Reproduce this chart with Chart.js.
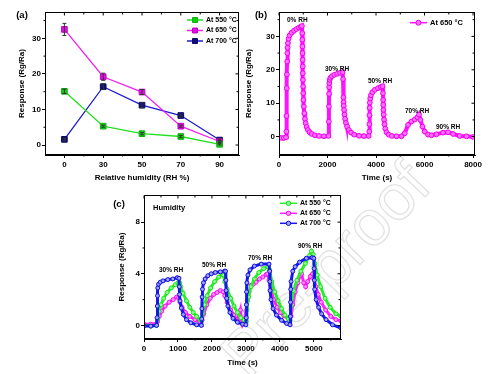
<!DOCTYPE html>
<html>
<head>
<meta charset="utf-8">
<script src="https://cdn.jsdelivr.net/npm/chart.js@4.4.1/dist/chart.umd.min.js"></script>
<style>
  html, body { margin: 0; padding: 0; background: #fff; }
  #wrap { position: relative; width: 488px; height: 374px; overflow: hidden; }
  canvas { position: absolute; }
  #wm {
    position: absolute; left: 160px; top: 232px; width: 330px; text-align: center;
    font: 64px 'Liberation Sans', Arial, sans-serif; color: transparent;
    -webkit-text-stroke: 1.2px #e0e0e0; transform: rotate(-46deg); white-space: nowrap;
  }
</style>
</head>
<body>
<div id="wrap">
  <div id="wm">Pre-proof</div>
  <canvas id="chartA" width="244" height="190" style="left:0;top:0"></canvas>
  <canvas id="chartB" width="248" height="190" style="left:240px;top:0"></canvas>
  <canvas id="chartC" width="260" height="189" style="left:100px;top:185px"></canvas>
</div>
<script>
// (a) response vs humidity
const humidityLevels = ['0', '30', '50', '70', '90']
const resp550 = [15.1, 5.3, 3.2, 2.4, 0.2]
const resp650 = [32.5, 19.2, 14.9, 5.3, 1.0]
const resp700 = [1.6, 16.4, 11.2, 8.3, 1.4]
const err550 = [0.6, 0.3, 0.3, 0.3, 0.2]
const err650 = [1.7, 1.0, 0.7, 0.3, 0.3]
const err700 = [0.3, 0.8, 0.7, 0.4, 0.3]
const ticksYA = [0, 10, 20, 30]
const minorYA = [5, 15, 25, 35]
const minorXA = [0.5, 1.5, 2.5, 3.5]

// (b) transient at 650 °C
const timeB = [0, 100, 200, 290, 305, 312, 320, 328, 336, 345, 355, 370, 395, 440, 520, 620, 720, 820, 900, 945,
  958, 962, 966, 970, 974, 978, 982, 987, 992, 1000, 1010, 1025, 1045, 1070, 1100, 1140, 1190, 1260, 1350, 1480,
  1650, 1850, 2040, 2055, 2060, 2064, 2068, 2075, 2090, 2120, 2180, 2280, 2400, 2520, 2620,
  2640, 2655, 2662, 2670, 2682, 2700, 2725, 2760, 2810, 2880, 2970, 3100, 3300, 3500, 3700,
  3722, 3728, 3733, 3738, 3745, 3760, 3790, 3850, 3950, 4080, 4200, 4270,
  4285, 4292, 4298, 4305, 4315, 4330, 4350, 4380, 4430, 4520, 4650, 4850, 5050,
  5184, 5320, 5460, 5596, 5707, 5773, 5831, 5913, 6008, 6144, 6285, 6490, 6763, 6969, 7175, 7450, 7728, 8000]
const respB = [-0.3, -0.4, -0.4, -0.2, 1.5, 6.2, 14.5, 18.6, 22.5, 25, 26.6, 28, 29.3, 30.3, 31.1, 31.7, 32.2, 32.6, 32.9, 33.1,
  31, 29, 27, 25, 23, 21, 19, 17, 15, 13, 11, 9, 7, 5.3, 4, 2.9, 2, 1.3, 0.8, 0.4,
  0.2, 0.1, 0.2, 4.5, 9, 12.8, 14.8, 16, 17, 17.6, 18.1, 18.5, 18.8, 19.1, 19.3,
  17.2, 11.8, 10.3, 9.2, 8, 6.6, 5.3, 4.1, 3, 2, 1.2, 0.6, 0.25, 0.15, 0.2,
  1.5, 3.7, 6.4, 8.6, 10.2, 11.4, 12.4, 13.3, 14, 14.5, 14.9, 15.1,
  13, 11, 9.5, 8, 6.6, 5.1, 3.7, 2.4, 1.3, 0.6, 0.2, 0.1, 0.1,
  1, 3.5, 4.5, 5.1, 5.8, 6.6, 5, 3, 1.5, 0.6, 0.4, 0.7, 1.2, 1.3, 0.8, 0.2, 0.1, -0.1]
const ticksXB = [0, 2000, 4000, 6000, 8000]
const minorXB = [1000, 3000, 5000, 7000]
const ticksYB = [0, 10, 20, 30]
const minorYB = [5, 15, 25, 35]

// (c) transients at three temperatures
const time700 = [0, 200, 370, 385, 392, 398, 405, 430, 480, 560, 700, 850, 980, 1030, 1040, 1045, 1060, 1100, 1160, 1250, 1380, 1550,
  1690, 1700, 1705, 1712, 1722, 1750, 1800, 1880, 1980, 2100, 2250, 2370, 2400, 2410, 2418, 2435, 2470, 2530, 2620, 2750, 2900,
  3000, 3010, 3015, 3020, 3030, 3060, 3120, 3250, 3450, 3680, 3700, 3706, 3712, 3740, 3800, 3900, 4050, 4200,
  4300, 4310, 4315, 4320, 4330, 4380, 4450, 4580, 4780, 4950, 5000, 5010, 5016, 5025, 5070, 5140, 5230, 5360, 5550, 5800]
const resp700c = [-0.05, -0.05, 0, 0.6, 1.5, 2.3, 2.9, 3.2, 3.35, 3.45, 3.55, 3.6, 3.7, 3.65, 3.0, 2.4, 1.9, 1.35, 0.85, 0.45, 0.2, 0.05,
  0, 0.5, 1.3, 2.2, 2.8, 3.3, 3.6, 3.85, 4.0, 4.1, 4.15, 4.2, 4.2, 3.5, 2.7, 2.1, 1.5, 1.0, 0.55, 0.25, 0.1,
  0.05, 0.6, 1.6, 2.6, 3.3, 3.9, 4.3, 4.6, 4.75, 4.75, 4.2, 3.4, 2.7, 2.0, 1.3, 0.8, 0.4, 0.15,
  0.05, 0.7, 1.8, 2.8, 3.4, 4.2, 4.55, 4.9, 5.2, 5.25, 5.2, 4.4, 3.5, 2.8, 2.0, 1.4, 0.9, 0.45, 0.05, -0.2]
const time550 = [0, 200, 370, 400, 440, 500, 580, 680, 800, 920, 1000, 1050, 1080, 1150, 1250, 1350, 1450, 1550, 1650,
  1700, 1730, 1780, 1860, 1960, 2080, 2200, 2300, 2340, 2380, 2450, 2550, 2650, 2750, 2850, 2950,
  3010, 3030, 3080, 3150, 3250, 3380, 3520, 3650, 3700, 3760, 3850, 3950, 4050, 4150, 4250,
  4300, 4330, 4400, 4500, 4620, 4750, 4870, 4930, 4980, 5030, 5100, 5200, 5330, 5480, 5650, 5800]
const resp550c = [0, -0.05, 0, 0.5, 1.1, 1.6, 2.1, 2.55, 2.9, 3.15, 3.3, 3.3, 3.0, 2.5, 1.9, 1.4, 1.0, 0.7, 0.45,
  0.4, 0.9, 1.6, 2.3, 2.9, 3.4, 3.75, 3.95, 3.9, 3.4, 2.8, 2.1, 1.5, 1.0, 0.6, 0.4,
  0.3, 1.2, 2.2, 3.0, 3.6, 4.1, 4.4, 4.55, 4.3, 3.4, 2.6, 1.9, 1.3, 0.8, 0.5,
  0.4, 1.5, 2.7, 3.5, 4.2, 4.8, 5.4, 5.75, 5.5, 4.8, 3.9, 3.0, 2.1, 1.4, 0.9, 0.7]
const time650 = [0, 200, 370, 400, 450, 520, 620, 740, 860, 960, 1020, 1060, 1120, 1220, 1350, 1500, 1650,
  1710, 1760, 1850, 1950, 2050, 2150, 2250, 2330, 2380, 2450, 2550, 2650, 2760, 2800, 2840, 2870, 2900, 2950,
  3000, 3040, 3090, 3150, 3220, 3300, 3400, 3500, 3600, 3640, 3680, 3740, 3820, 3920, 4020, 4120, 4250,
  4330, 4380, 4450, 4530, 4600, 4640, 4700, 4760, 4820, 4900, 4960, 5000, 5060, 5130, 5220, 5350, 5500, 5650, 5800]
const resp650c = [0.1, 0.1, 0.15, 0.3, 0.7, 1.1, 1.5, 1.8, 2.0, 2.2, 2.15, 1.8, 1.4, 1.0, 0.7, 0.45, 0.3,
  0.4, 0.9, 1.6, 2.1, 2.4, 2.55, 2.7, 2.6, 2.3, 1.8, 1.2, 0.8, 0.3, 0.8, 1.2, 0.5, 0.1, 0.4,
  1.1, 1.9, 2.6, 3.1, 3.2, 3.35, 3.6, 3.75, 3.95, 4.0, 3.5, 2.7, 2.0, 1.4, 1.0, 0.75, 0.5,
  0.7, 1.6, 2.6, 3.3, 3.9, 4.0, 3.3, 3.0, 3.4, 3.8, 4.0, 3.6, 3.0, 2.4, 1.8, 1.2, 0.7, 0.45, 0.35]
const ticksXC = [0, 1000, 2000, 3000, 4000, 5000]
const minorXC = [500, 1500, 2500, 3500, 4500, 5500]
const ticksYC = [0, 4, 8]
const minorYC = [2, 6]

const family = "'Liberation Sans', Arial, sans-serif"
Chart.defaults.font.family = family
Chart.defaults.font.weight = 'bold'
Chart.defaults.color = '#000'
Chart.defaults.animation = false

const xy = (xs, ys) => xs.map((x, i) => ({ x, y: ys[i] }))

// frame, mirror ticks, minor ticks, error bars, legend and labels
const decor = {
  id: 'decor',
  afterDatasetsDraw(chart, args, o) {
    if (!o.errors) return
    const { ctx } = chart
    ctx.save()
    ctx.strokeStyle = '#333'
    ctx.lineWidth = 1
    o.errors.forEach((errs, di) => {
      const meta = chart.getDatasetMeta(di)
      const data = chart.data.datasets[di].data
      meta.data.forEach((pt, i) => {
        const top = chart.scales.y.getPixelForValue(data[i] + errs[i])
        const bot = chart.scales.y.getPixelForValue(data[i] - errs[i])
        ctx.beginPath()
        ctx.moveTo(pt.x, top); ctx.lineTo(pt.x, bot)
        ctx.moveTo(pt.x - 2, top); ctx.lineTo(pt.x + 2, top)
        ctx.moveTo(pt.x - 2, bot); ctx.lineTo(pt.x + 2, bot)
        ctx.stroke()
      })
    })
    ctx.restore()
  },
  afterDraw(chart, args, o) {
    const { ctx, chartArea: a, scales: { x, y } } = chart
    ctx.save()
    ctx.strokeStyle = '#000'
    ctx.lineWidth = 1
    const L = Math.round(a.left) + 0.5, R = Math.round(a.right) - 0.5
    const T = Math.round(a.top) + 0.5, B = Math.round(a.bottom) - 0.5
    ctx.strokeRect(L, T, R - L, B - T)
    ctx.beginPath()
    x.ticks.forEach((t, i) => { const p = x.getPixelForTick(i); ctx.moveTo(p, T); ctx.lineTo(p, T + 3) })
    y.ticks.forEach((t, i) => { const p = y.getPixelForTick(i); ctx.moveTo(R, p); ctx.lineTo(R - 3, p) })
    ;(o.minorX || []).forEach(v => {
      const p = x.getPixelForValue(v)
      ctx.moveTo(p, B); ctx.lineTo(p, B + 2); ctx.moveTo(p, T); ctx.lineTo(p, T + 2)
    })
    ;(o.minorY || []).forEach(v => {
      const p = y.getPixelForValue(v)
      ctx.moveTo(L, p); ctx.lineTo(L - 2, p); ctx.moveTo(R, p); ctx.lineTo(R - 2, p)
    })
    ctx.stroke()

    if (o.legend) {
      const lg = o.legend
      chart.data.datasets.forEach((ds, i) => {
        const cy = lg.y + i * lg.dy
        ctx.strokeStyle = ds.borderColor
        ctx.lineWidth = 1.5
        ctx.beginPath(); ctx.moveTo(lg.x, cy); ctx.lineTo(lg.x + lg.line, cy); ctx.stroke()
        ctx.fillStyle = ds.pointBackgroundColor
        ctx.strokeStyle = ds.pointBorderColor
        ctx.lineWidth = 1
        Chart.helpers.drawPoint(ctx, { pointStyle: ds.pointStyle, radius: lg.radius, borderWidth: 1 }, lg.x + lg.line / 2, cy)
        ctx.fillStyle = '#000'
        ctx.font = `bold ${lg.size}px ${family}`
        ctx.textBaseline = 'middle'
        ctx.textAlign = 'left'
        ctx.fillText(ds.label, lg.x + lg.line + 3, cy)
      })
    }
    ;(o.texts || []).forEach(t => {
      ctx.fillStyle = '#000'
      ctx.font = `bold ${t.size}px ${family}`
      ctx.textBaseline = 'middle'
      ctx.textAlign = t.align || 'left'
      ctx.fillText(t.text, t.x, t.y)
    })
    ctx.restore()
  }
}

function axes(opt) {
  const xTicks = { font: { size: 8 }, padding: 2, maxRotation: 0 }
  if (opt.xCallback) xTicks.callback = opt.xCallback
  return {
    x: Object.assign({
      grid: { drawOnChartArea: false, tickLength: 3, color: '#000', offset: false },
      border: { color: '#000', width: 1 },
      ticks: xTicks,
      title: { display: true, text: opt.xTitle, font: { size: 8 }, padding: { bottom: opt.xTitlePad } },
      afterFit: s => { s.height = opt.xHeight }
    }, opt.x),
    y: Object.assign({
      min: opt.yMin, max: opt.yMax,
      afterBuildTicks: s => { s.ticks = opt.yTicks.map(v => ({ value: v })) },
      grid: { drawOnChartArea: false, tickLength: 3, color: '#000' },
      border: { color: '#000', width: 1 },
      ticks: { font: { size: 8 }, padding: 1, callback: v => v },
      title: { display: true, text: 'Response (Rg/Ra)', font: { size: 8 }, padding: { top: opt.yTitlePad } },
      afterFit: s => { s.width = opt.yWidth }
    }, opt.y)
  }
}

new Chart(document.getElementById('chartA'), {
  type: 'line',
  data: {
    labels: humidityLevels,
    datasets: [
      { label: 'At 550 °C', data: resp550, borderColor: '#22e022', pointBackgroundColor: '#14d014', pointBorderColor: '#10b010' },
      { label: 'At 650 °C', data: resp650, borderColor: '#f020f0', pointBackgroundColor: '#e010e0', pointBorderColor: '#c000c0' },
      { label: 'At 700 °C', data: resp700, borderColor: '#1a1ad0', pointBackgroundColor: '#10107a', pointBorderColor: '#0a0a60' }
    ].map(d => Object.assign(d, { borderWidth: 1.3, pointStyle: 'rect', pointRadius: 4, pointBorderWidth: 1, tension: 0 }))
  },
  options: {
    responsive: false,
    layout: { padding: { top: 12, right: 3, left: 0, bottom: 0 } },
    plugins: {
      legend: { display: false }, tooltip: { enabled: false },
      decor: {
        errors: [err550, err650, err700],
        minorX: minorXA, minorY: minorYA,
        legend: { x: 187, y: 20, dy: 10.5, line: 16, radius: 3.5, size: 7 },
        texts: [{ text: '(a)', x: 22, y: 15, size: 9.5, align: 'center' }]
      }
    },
    scales: axes({
      xTitle: 'Relative humidity (RH %)', xTitlePad: 7, xHeight: 35,
      xCallback: (v, i) => humidityLevels[i],
      x: { type: 'category', offset: true },
      yMin: -2.8, yMax: 37.4, yTicks: ticksYA, yWidth: 45, yTitlePad: 17
    })
  },
  plugins: [decor]
})

new Chart(document.getElementById('chartB'), {
  type: 'line',
  data: {
    datasets: [{
      label: 'At 650 °C', data: xy(timeB, respB),
      borderColor: '#ff10ff', borderWidth: 4, tension: 0,
      pointStyle: 'circle', pointRadius: 2.4, pointBorderWidth: 1,
      pointBackgroundColor: '#ff70ff', pointBorderColor: '#f000f0'
    }]
  },
  options: {
    responsive: false,
    layout: { padding: { top: 12, right: 13, left: 0, bottom: 0 } },
    plugins: {
      legend: { display: false }, tooltip: { enabled: false },
      decor: {
        minorX: minorXB, minorY: minorYB,
        legend: { x: 170, y: 22.7, dy: 0, line: 17, radius: 2.5, size: 7.5 },
        texts: [
          { text: '(b)', x: 21, y: 15, size: 9.5, align: 'center' },
          { text: '0% RH', x: 47, y: 20, size: 6.5 },
          { text: '30% RH', x: 85, y: 69.3, size: 6.5 },
          { text: '50% RH', x: 128, y: 81.7, size: 6.5 },
          { text: '70% RH', x: 165, y: 111.7, size: 6.5 },
          { text: '90% RH', x: 196, y: 127.3, size: 6.5 }
        ]
      }
    },
    scales: axes({
      xTitle: 'Time (s)', xTitlePad: 7, xHeight: 35, xCallback: v => v,
      x: {
        type: 'linear', min: 0, max: 8080,
        afterBuildTicks: s => { s.ticks = ticksXB.map(v => ({ value: v })) }
      },
      yMin: -5.5, yMax: 37.3, yTicks: ticksYB, yWidth: 39, yTitlePad: 3.5
    })
  },
  plugins: [decor]
})

const bandStyle = { borderWidth: 3, tension: 0, pointStyle: 'circle', pointRadius: 2, pointBorderWidth: 1 }
new Chart(document.getElementById('chartC'), {
  type: 'line',
  data: {
    datasets: [
      Object.assign({ label: 'At 550 °C', data: xy(time550, resp550c), order: 2,
        borderColor: '#28f028', pointBackgroundColor: '#90ff90', pointBorderColor: '#18e018' }, bandStyle),
      Object.assign({ label: 'At 650 °C', data: xy(time650, resp650c), order: 3,
        borderColor: '#ff20ff', pointBackgroundColor: '#ff90ff', pointBorderColor: '#f010f0' }, bandStyle),
      Object.assign({ label: 'At 700 °C', data: xy(time700, resp700c), order: 1,
        borderColor: '#1616ee', pointBackgroundColor: '#a0a0ff', pointBorderColor: '#1010dd' }, bandStyle)
    ]
  },
  options: {
    responsive: false,
    layout: { padding: { top: 10, right: 19, left: 0, bottom: 0 } },
    plugins: {
      legend: { display: false }, tooltip: { enabled: false },
      decor: {
        minorX: minorXC, minorY: minorYC,
        legend: { x: 180, y: 18.3, dy: 10, line: 17, radius: 2.2, size: 7 },
        texts: [
          { text: '(c)', x: 19, y: 19, size: 9.5, align: 'center' },
          { text: 'Humidity', x: 53, y: 22.7, size: 7.5 },
          { text: '30% RH', x: 59, y: 85, size: 6.5 },
          { text: '50% RH', x: 102, y: 80, size: 6.5 },
          { text: '70% RH', x: 148, y: 73.3, size: 6.5 },
          { text: '90% RH', x: 198, y: 61, size: 6.5 }
        ]
      }
    },
    scales: axes({
      xTitle: 'Time (s)', xTitlePad: 6, xHeight: 35, xCallback: v => v,
      x: {
        type: 'linear', min: 0, max: 5800,
        afterBuildTicks: s => { s.ticks = ticksXC.map(v => ({ value: v })) }
      },
      yMin: -1.05, yMax: 10.1, yTicks: ticksYC, yWidth: 44, yTitlePad: 17
    })
  },
  plugins: [decor]
})
</script>
</body>
</html>
